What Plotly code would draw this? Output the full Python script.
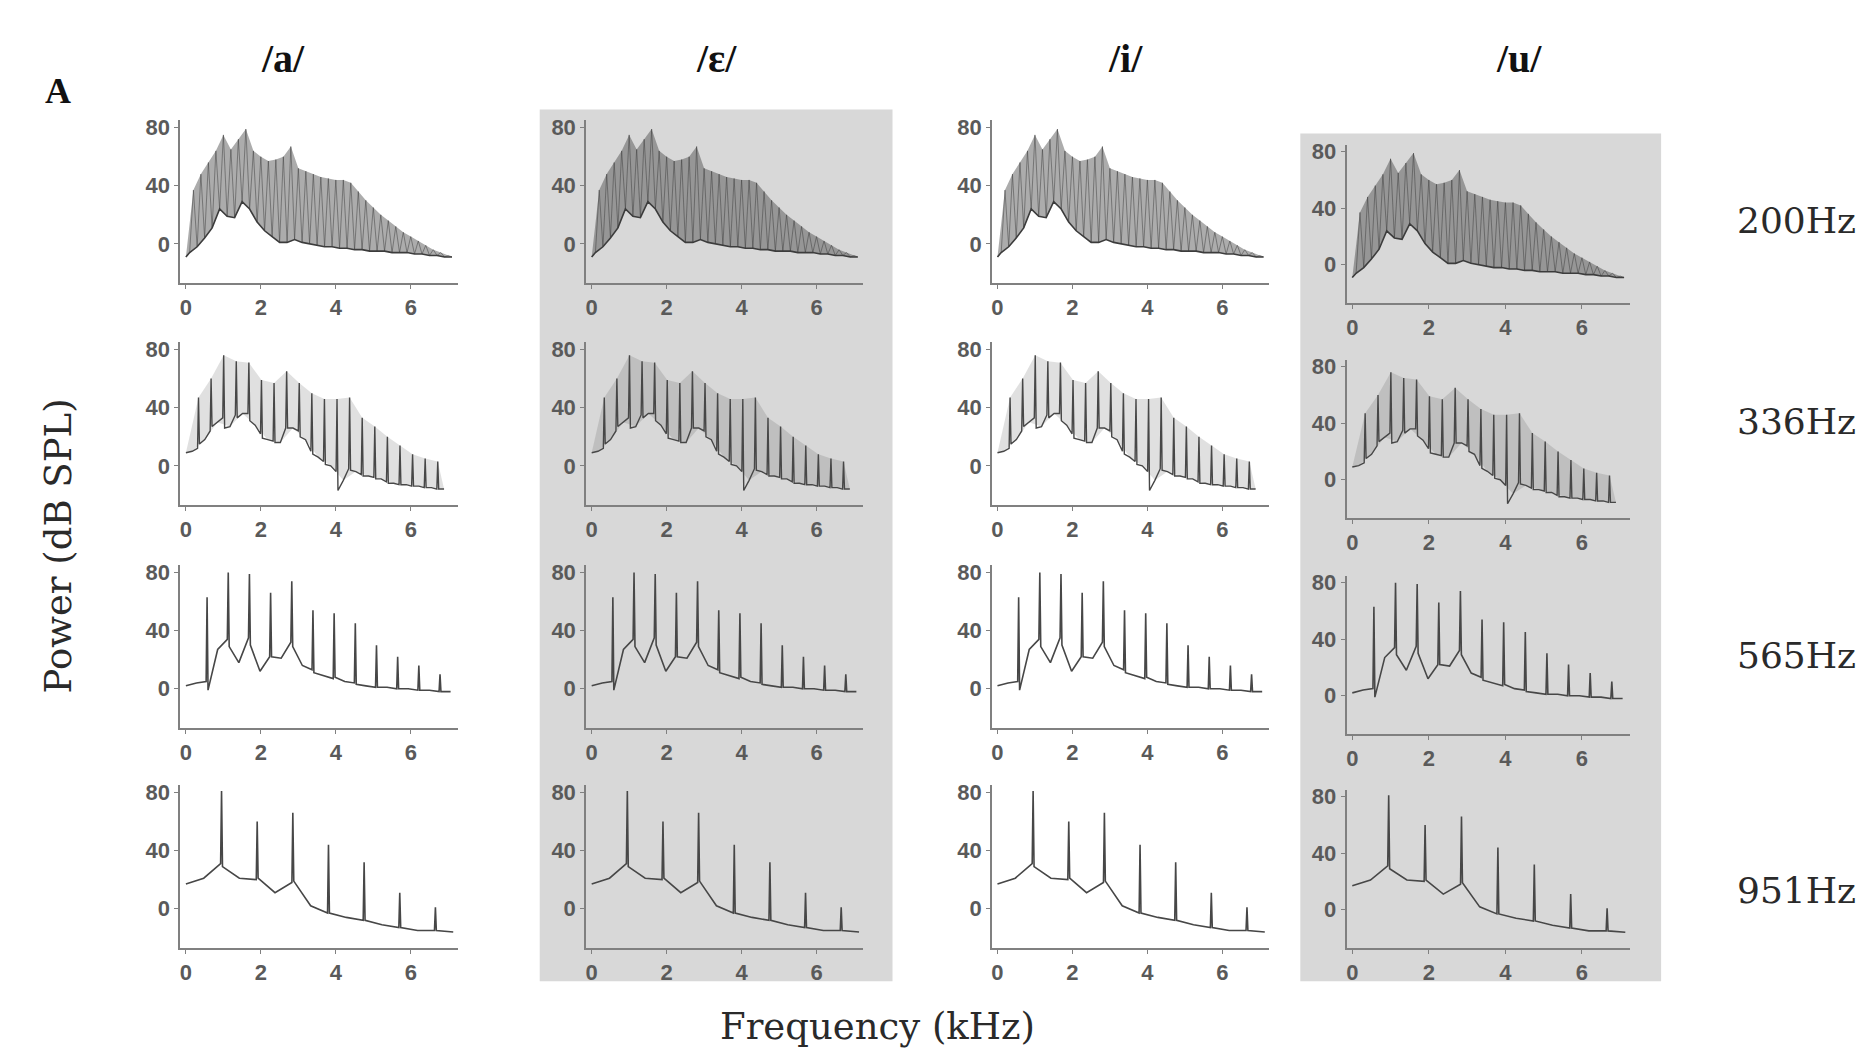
import plotly.graph_objects as go

# ---------------- data ----------------
VOWELS = ["/a/", "/ɛ/", "/i/", "/u/"]
F0_LABELS = ["200Hz", "336Hz", "565Hz", "951Hz"]
F0_HZ = [200, 336, 565, 951]
X_TICKS = [0, 2, 4, 6]
Y_TICKS = [0, 40, 80]

# F0 = 200 Hz : harmonic peak levels (dB) and floor levels between harmonics
start_200 = -9
peaks_200 = [37, 48, 56, 64, 75, 65, 72, 79, 64, 60, 57, 58, 60, 67, 52, 50, 48, 46,
             45, 44, 44, 42, 36, 30, 25, 20, 16, 12, 8, 5, 2, -1, -4, -6, -8]
valleys_200 = [-6, -2, 4, 11, 24, 19, 18, 29, 24, 15, 9, 5, 1, 1, 3, 1, 0, -1, -2,
               -2, -3, -3, -4, -4, -5, -5, -5, -6, -6, -6, -7, -7, -8, -8, -9, -9]

# F0 = 336 Hz
start_336 = 9
peaks_336 = [47, 60, 76, 72, 71, 59, 57, 65, 57, 50, 46, 46, 47, 33, 27, 20, 14, 8, 5, 3]
lbase_336 = [12, 24, 33, 35, 36, 22, 17, 26, 24, 10, 3, -4, -2, -6, -8, -11, -13, -14, -15, -16]
rbase_336 = [15, 27, 26, 33, 31, 19, 16, 26, 20, 8, 1, -17, -3, -7, -9, -12, -13, -14, -15, -16]
valleys_336 = [10, 18, 30, 27, 36, 28, 18, 16, 26, 18, 6, 0, -10, -4, -7, -9, -12, -13, -14, -15, -16]

# F0 = 565 Hz
start_565 = 2
peaks_565 = [63, 80, 79, 66, 74, 54, 52, 45, 30, 22, 16, 10]
lbase_565 = [5, 34, 35, 22, 32, 13, 7, 4, 1, 0, -1, -2]
rbase_565 = [-1, 29, 30, 22, 29, 11, 8, 3, 1, 0, -1, -2]
valleys_565 = [4, 27, 18, 12, 21, 16, 9, 5, 2, 1, 0, -1, -2]

# F0 = 951 Hz
start_951 = 17
peaks_951 = [81, 60, 66, 44, 32, 11, 1]
lbase_951 = [31, 20, 18, -3, -8, -13, -15]
rbase_951 = [29, 21, 19, -3, -8, -13, -15]
valleys_951 = [21, 21, 11, 2, -6, -11, -15, -16]

ROWS = [
    (F0_HZ[0], start_200, peaks_200, valleys_200, None, None),
    (F0_HZ[1], start_336, peaks_336, valleys_336, lbase_336, rbase_336),
    (F0_HZ[2], start_565, peaks_565, valleys_565, lbase_565, rbase_565),
    (F0_HZ[3], start_951, peaks_951, valleys_951, lbase_951, rbase_951),
]

# ---------------- style / layout ----------------
W, H = 1871, 1054
SPIKE_HW = 0.025            # half width of a harmonic spike (kHz)
FILL_ALPHA = [0.45, 0.17, 0.0, 0.0]
LINE_COL = ["rgba(60,60,60,0.55)", "#474747", "#474747", "#474747"]
LINE_W = [0.9, 1.4, 1.6, 1.6]
FLOOR_LINE = [True, False, False, False]
XR = [-0.15, 7.25]
YR = [-27, 85]
COL_X0 = [185, 591, 997, 1352]        # pixel of 0 kHz
COL_SX = [37.5, 37.5, 37.5, 38.3]      # px per kHz
ROW_Y0 = [[240, 463, 687, 908]] * 3 + [[261, 477, 694, 909]]   # pixel of 0 dB per column
COL_SY = [1.46, 1.46, 1.46, 1.42]      # px per dB
GRAY = "#d8d8d8"
AX_COL = "#808080"
TICK_FONT = dict(family="Liberation Sans", size=22, color="#5a5a5a")


def spectrum_xy(f0_hz, start, peaks, valleys, lbase, rbase):
    f0 = f0_hz / 1000.0
    xs, ys = [0.0, f0 * 0.5], [start, valleys[0]]
    for k, pk in enumerate(peaks):
        f = f0 * (k + 1)
        if lbase is not None:
            xs.append(f - SPIKE_HW); ys.append(lbase[k])
        xs.append(f); ys.append(pk)
        if rbase is not None:
            xs.append(f + SPIKE_HW); ys.append(rbase[k])
        xs.append(f + f0 * 0.5); ys.append(valleys[k + 1])
    return xs, ys


fig = go.Figure()
layout = dict(
    width=W, height=H, margin=dict(l=0, r=0, t=0, b=0),
    paper_bgcolor="white", plot_bgcolor="rgba(0,0,0,0)",
    showlegend=False, shapes=[], annotations=[],
)

idx = 0
for c in range(4):
    for r in range(4):
        idx += 1
        xa = "x" if idx == 1 else f"x{idx}"
        ya = "y" if idx == 1 else f"y{idx}"
        f0_hz, start, peaks, valleys, lb, rb = ROWS[r]
        f0 = f0_hz / 1000.0
        lo_x = [0.0] + [f0 * (k + 0.5) for k in range(len(valleys))]
        lo_y = [start] + list(valleys)

        if FILL_ALPHA[r] > 0:
            up_x = [0.0] + [f0 * (k + 1) for k in range(len(peaks))] + [lo_x[-1]]
            up_y = [start] + list(peaks) + [valleys[-1]]
            fig.add_trace(go.Scatter(x=lo_x, y=lo_y, mode="lines", line=dict(width=0),
                                     xaxis=xa, yaxis=ya, hoverinfo="skip"))
            fig.add_trace(go.Scatter(x=up_x, y=up_y, mode="lines", line=dict(width=0),
                                     fill="tonexty",
                                     fillcolor=f"rgba(70,70,70,{FILL_ALPHA[r]})",
                                     xaxis=xa, yaxis=ya, hoverinfo="skip"))

        xs, ys = spectrum_xy(f0_hz, start, peaks, valleys, lb, rb)
        fig.add_trace(go.Scatter(x=xs, y=ys, mode="lines",
                                 line=dict(color=LINE_COL[r], width=LINE_W[r]),
                                 xaxis=xa, yaxis=ya))
        if FLOOR_LINE[r]:
            fig.add_trace(go.Scatter(x=lo_x, y=lo_y, mode="lines",
                                     line=dict(color="#3c3c3c", width=1.6),
                                     xaxis=xa, yaxis=ya))

        x0, sx = COL_X0[c], COL_SX[c]
        y0, sy = ROW_Y0[c][r], COL_SY[c]
        xl, xr = x0 + XR[0] * sx, x0 + XR[1] * sx
        yb, yt = y0 - YR[0] * sy, y0 - YR[1] * sy
        axis_common = dict(showline=True, linecolor=AX_COL, linewidth=1.6,
                           ticks="outside", ticklen=4, tickcolor=AX_COL, tickwidth=1.2,
                           showgrid=False, zeroline=False, tickfont=TICK_FONT,
                           fixedrange=True)
        layout["xaxis" if idx == 1 else f"xaxis{idx}"] = dict(
            domain=[xl / W, xr / W], range=XR, tickvals=X_TICKS,
            ticktext=[f"<b>{v}</b>" for v in X_TICKS], anchor=ya, **axis_common)
        layout["yaxis" if idx == 1 else f"yaxis{idx}"] = dict(
            domain=[1 - yb / H, 1 - yt / H], range=YR, tickvals=Y_TICKS,
            ticktext=[f"<b>{v}</b>" for v in Y_TICKS], anchor=xa, **axis_common)

# grey background boxes behind columns 2 and 4
for (x1, y1, x2, y2) in [(539, 105, 892, 981), (1300, 129, 1661, 981)]:
    layout["shapes"].append(dict(type="rect", xref="paper", yref="paper",
                                 x0=x1 / W, x1=x2 / W, y0=1 - y2 / H, y1=1 - y1 / H,
                                 fillcolor=GRAY, line=dict(width=0), layer="below"))


def ann(text, px, py, size, family, bold=False, angle=0, color="#222222"):
    layout["annotations"].append(dict(
        text=f"<b>{text}</b>" if bold else text, x=px / W, y=1 - py / H,
        xref="paper", yref="paper", showarrow=False, xanchor="center",
        yanchor="middle", textangle=angle,
        font=dict(family=family, size=size, color=color)))


for v, px in zip(VOWELS, [282, 716, 1125, 1519]):
    ann(v, px, 54, 40, "Liberation Serif", bold=True, color="#111111")
ann("A", 57, 86, 36, "Liberation Serif", bold=True, color="#111111")
for lab, py in zip(F0_LABELS, [217, 418, 654, 890]):
    ann(lab, 1796, py, 36, "DejaVu Serif", color="#2a2a2a")
ann("Power (dB SPL)", 57, 543, 37, "DejaVu Serif", angle=-90, color="#2a2a2a")
ann("Frequency (kHz)", 877, 1026, 37, "DejaVu Serif", color="#2a2a2a")

fig.update_layout(**layout)
fig.write_html("out.html", config={"displayModeBar": False},
               post_script="document.body.style.margin='0';document.body.style.overflow='hidden';")
